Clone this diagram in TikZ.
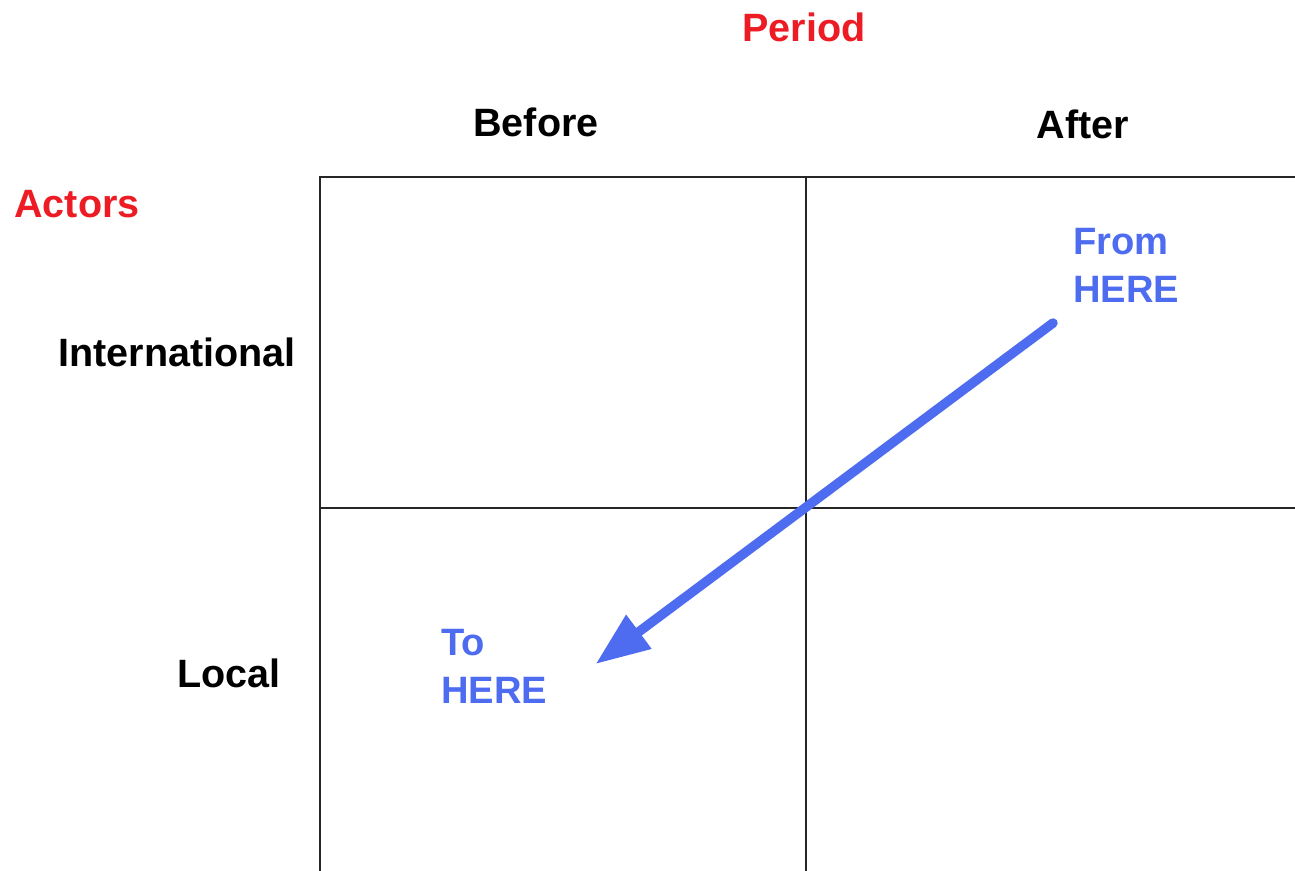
\documentclass[tikz,border=0pt]{standalone}
\usepackage{fontspec}
\setmainfont{Liberation Sans}
\usetikzlibrary{positioning,arrows.meta,calc}
\definecolor{titlered}{RGB}{237,28,36}
\definecolor{moveblue}{RGB}{78,108,240}
\tikzset{
header/.style={font=\fontsize{22.5}{28}\selectfont\bfseries, inner sep=0pt},
axislabel/.style={header, text=titlered},
note/.style={header, font=\fontsize{21.7}{27.5}\selectfont\bfseries, text=moveblue, align=left},
gridline/.style={line width=0.04cm, black!85},
move/.style={moveblue, line width=0.19cm, line cap=round,
  -{Triangle[length=1.08cm,width=0.8cm]}},
}

\begin{document}
\begin{tikzpicture}[x=0.02cm,y=-0.02cm]
            \useasboundingbox[fill=white] (0,0) rectangle (1295,871);
            % grid
            \draw[gridline] (320,871) -- (320,177) -- (1295,177);
            \draw[gridline] (320,508) -- (1295,508);
            \draw[gridline] (806,177) -- (806,871);
            % headings
            \node[axislabel, anchor=base] (period) at (804,42) {Period};
            \node[axislabel, anchor=base west] (actors) at (14,218) {Actors};
            \node[header, anchor=base] (before) at (536,137) {Before};
            \node[header, anchor=base] (after) at (1083,139) {After};
            \node[header, anchor=base] (intl) at (177,367) {International};
            \node[header, anchor=base] (local) at (229,687) {Local};
            % notes
            \node[note, anchor=south west] (from) at (1073,303) {From\\HERE};
            \node[note, anchor=south west] (to) at (441,704) {To\\HERE};
            \coordinate (tail) at ($(from.south west)+(-20,20)$);
            \coordinate (tip) at ($(to.south east)+(48,-40)$);
            \draw[move] (tail) -- (tip);
        \end{tikzpicture}
\end{document}
